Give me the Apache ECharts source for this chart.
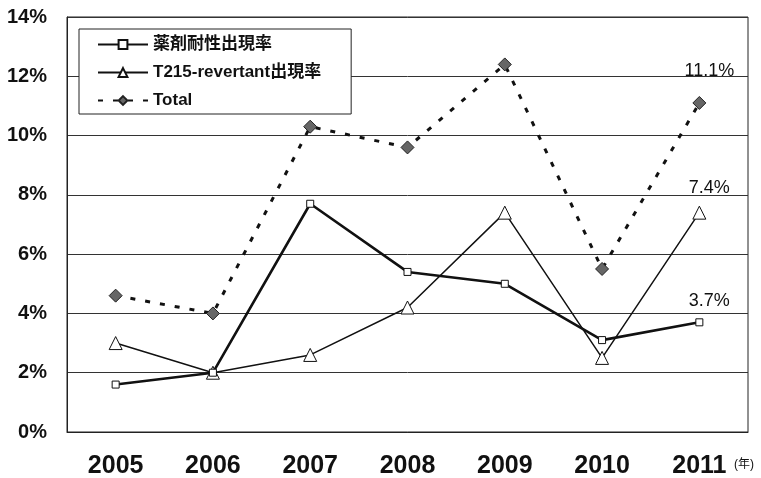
<!DOCTYPE html>
<html>
<head>
<meta charset="utf-8">
<script src="https://cdn.jsdelivr.net/npm/echarts@6/dist/echarts.min.js"></script>
<style>
  html, body { margin: 0; padding: 0; background: #fff; }
  #chart { width: 761px; height: 478px; }
</style>
</head>
<body>
<div id="chart"></div>
<script>
// Yearly rates (%)
const years = ['2005', '2006', '2007', '2008', '2009', '2010', '2011'];
const drugResistance = [1.6, 2.0, 7.7, 5.4, 5.0, 3.1, 3.7];
const t215Revertant = [3.0, 2.0, 2.6, 4.2, 7.4, 2.5, 7.4];
const total = [4.6, 4.0, 10.3, 9.6, 12.4, 5.5, 11.1];
const seriesNames = ['薬剤耐性出現率', 'T215-revertant出現率', 'Total'];
const yTicks = { min: 0, max: 14, interval: 2 };

const FONT = '"Liberation Sans", Arial, "Noto Sans CJK JP", sans-serif';

// Show the value only on the final year, offset above the point
function lastLabel(values, dy) {
  return values.map((v, i) => i === values.length - 1
    ? { value: v, label: { show: true, position: 'top', offset: [10, -dy],
        formatter: p => p.value.toFixed(1) + '%',
        fontFamily: FONT, fontSize: 18, color: '#111' } }
    : v);
}

const chart = echarts.init(document.getElementById('chart'));
chart.setOption({
  animation: false,
  backgroundColor: '#fff',
  grid: { left: 67, right: 13, top: 17, bottom: 46, show: true,
          outerBoundsMode: 'none', containLabel: false,
          borderColor: '#222', borderWidth: 1 },
  legend: {
    orient: 'vertical', left: 79, top: 29,
    padding: [6, 30, 4, 18],
    itemGap: 9,
    itemWidth: 50, itemHeight: 11,
    backgroundColor: '#fff',
    borderColor: '#222', borderWidth: 1,
    textStyle: { fontFamily: FONT, fontSize: 17, fontWeight: 'bold', color: '#111',
                 lineHeight: 19 },
    data: seriesNames
  },
  xAxis: {
    type: 'category', data: years, boundaryGap: true,
    name: '(年)', nameLocation: 'end', nameGap: -14,
    nameTextStyle: { fontFamily: FONT, fontSize: 12, color: '#111',
                     align: 'left', verticalAlign: 'top', padding: [27, 0, 0, 0] },
    axisLine: { lineStyle: { color: '#222', width: 1 } },
    axisTick: { inside: true, length: 7, lineStyle: { color: '#222' } },
    axisLabel: { fontFamily: '"Liberation Sans Narrow", "Liberation Sans", Arial, sans-serif',
                 fontSize: 25, fontWeight: 'bold', color: '#111', margin: 22 }
  },
  yAxis: {
    type: 'value', min: yTicks.min, max: yTicks.max, interval: yTicks.interval,
    axisLine: { show: true, lineStyle: { color: '#222' } },
    axisTick: { show: false },
    splitLine: { lineStyle: { color: '#333', width: 1 } },
    axisLabel: { formatter: '{value}%', fontFamily: FONT, fontSize: 20,
                 fontWeight: 'bold', color: '#111', margin: 20 }
  },
  series: [
    {
      name: seriesNames[0], type: 'line', data: lastLabel(drugResistance, 3),
      symbol: 'rect', symbolSize: 7,
      itemStyle: { color: '#fff', borderColor: '#111', borderWidth: 1 },
      lineStyle: { color: '#111', width: 2.6 },
      z: 4
    },
    {
      name: seriesNames[1], type: 'line', data: lastLabel(t215Revertant, 4),
      symbol: 'triangle', symbolSize: 13,
      itemStyle: { color: '#fff', borderColor: '#111', borderWidth: 1 },
      lineStyle: { color: '#111', width: 1.5 },
      z: 3
    },
    {
      name: seriesNames[2], type: 'line', data: lastLabel(total, 11),
      symbol: 'diamond', symbolSize: 13,
      itemStyle: { color: '#666', borderColor: '#222', borderWidth: 1 },
      lineStyle: { color: '#111', width: 3, type: [5, 10] },
      z: 2
    }
  ]
});
</script>
</body>
</html>
